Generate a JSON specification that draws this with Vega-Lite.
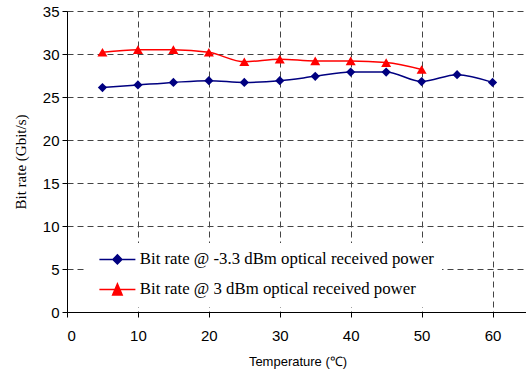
{
  "$schema": "https://vega.github.io/schema/vega-lite/v6.json",
  "autosize": {"type": "none"},
  "padding": {"left": 67, "top": 11, "right": 0, "bottom": 62},
  "width": 461,
  "height": 301,
  "background": "white",
  "config": {"view": {"stroke": null}},
  "data": {"values": [
    {"s": "Bit rate @ -3.3 dBm optical received power", "t": 5, "v": 26.1},
    {"s": "Bit rate @ -3.3 dBm optical received power", "t": 10, "v": 26.4},
    {"s": "Bit rate @ -3.3 dBm optical received power", "t": 15, "v": 26.7},
    {"s": "Bit rate @ -3.3 dBm optical received power", "t": 20, "v": 26.9},
    {"s": "Bit rate @ -3.3 dBm optical received power", "t": 25, "v": 26.7},
    {"s": "Bit rate @ -3.3 dBm optical received power", "t": 30, "v": 26.9},
    {"s": "Bit rate @ -3.3 dBm optical received power", "t": 35, "v": 27.4},
    {"s": "Bit rate @ -3.3 dBm optical received power", "t": 40, "v": 27.9},
    {"s": "Bit rate @ -3.3 dBm optical received power", "t": 45, "v": 27.9},
    {"s": "Bit rate @ -3.3 dBm optical received power", "t": 50, "v": 26.8},
    {"s": "Bit rate @ -3.3 dBm optical received power", "t": 55, "v": 27.6},
    {"s": "Bit rate @ -3.3 dBm optical received power", "t": 60, "v": 26.7},
    {"s": "Bit rate @ 3 dBm optical received power", "t": 5, "v": 30.2},
    {"s": "Bit rate @ 3 dBm optical received power", "t": 10, "v": 30.5},
    {"s": "Bit rate @ 3 dBm optical received power", "t": 15, "v": 30.5},
    {"s": "Bit rate @ 3 dBm optical received power", "t": 20, "v": 30.2},
    {"s": "Bit rate @ 3 dBm optical received power", "t": 25, "v": 29.1},
    {"s": "Bit rate @ 3 dBm optical received power", "t": 30, "v": 29.4},
    {"s": "Bit rate @ 3 dBm optical received power", "t": 35, "v": 29.2},
    {"s": "Bit rate @ 3 dBm optical received power", "t": 40, "v": 29.2},
    {"s": "Bit rate @ 3 dBm optical received power", "t": 45, "v": 29.0},
    {"s": "Bit rate @ 3 dBm optical received power", "t": 50, "v": 28.2}
  ]},
  "encoding": {
    "x": {"field": "t", "type": "quantitative",
      "scale": {"domain": [0, 65], "nice": false},
      "axis": {"values": [0, 10, 20, 30, 40, 50, 60], "title": "Temperature (℃)",
        "titleFont": "Liberation Sans", "titleFontSize": 13, "titleFontWeight": "normal", "titleColor": "black", "titlePadding": 12,
        "labelFont": "Liberation Sans", "labelFontSize": 15, "labelColor": "black", "labelPadding": 11,
        "domainColor": "black", "tickColor": "black", "tickSize": 5,
        "grid": true, "gridDash": [6, 4], "gridColor": "#444", "gridOpacity": 1}},
    "y": {"field": "v", "type": "quantitative",
      "scale": {"domain": [0, 35], "nice": false},
      "axis": {"values": [0, 5, 10, 15, 20, 25, 30, 35], "title": "Bit rate (Gbit/s)",
        "titleFont": "Liberation Serif", "titleFontSize": 15, "titleFontWeight": "normal", "titleColor": "black", "titlePadding": 14,
        "labelFont": "Liberation Sans", "labelFontSize": 15, "labelColor": "black", "labelPadding": 3,
        "domainColor": "black", "tickColor": "black", "tickSize": 5,
        "grid": true, "gridDash": [6, 4], "gridColor": "#444", "gridOpacity": 1}},
    "color": {"field": "s", "type": "nominal",
      "scale": {"domain": ["Bit rate @ -3.3 dBm optical received power", "Bit rate @ 3 dBm optical received power"], "range": ["#000080", "#ff0000"]},
      "legend": {"title": null, "orient": "none", "legendX": 17, "legendY": 232,
        "fillColor": "white", "padding": 8, "rowPadding": 11,
        "labelFont": "Liberation Serif", "labelFontSize": 16.8, "labelColor": "black", "labelLimit": 400, "labelOffset": 31,
        "symbolSize": 100,
        "encode": {"symbols": {"update": {
          "shape": {"signal": "datum.value == 'Bit rate @ 3 dBm optical received power' ? 'M-0.2,0L7.0,0M3.4,-1.1L4.35,1.1L2.45,1.1Z' : 'M-0.2,0L7.0,0M3.4,-0.9L4.3,0L3.4,0.9L2.5,0Z'"},
          "fill": {"signal": "datum.value == 'Bit rate @ 3 dBm optical received power' ? '#ff0000' : '#000080'"},
          "stroke": {"signal": "datum.value == 'Bit rate @ 3 dBm optical received power' ? '#ff0000' : '#000080'"},
          "strokeWidth": {"value": 1.5},
          "size": {"value": 100},
          "opacity": {"value": 1}
        }}}}}
  },
  "layer": [
    {"mark": {"type": "line", "interpolate": "monotone", "strokeWidth": 1.5}},
    {"transform": [{"filter": "datum.s == 'Bit rate @ -3.3 dBm optical received power'"}],
      "mark": {"type": "point", "filled": true, "opacity": 1, "size": 85, "shape": "diamond"}},
    {"transform": [{"filter": "datum.s == 'Bit rate @ 3 dBm optical received power'"}],
      "mark": {"type": "point", "filled": true, "opacity": 1, "size": 100, "shape": "triangle-up"}}
  ]
}
